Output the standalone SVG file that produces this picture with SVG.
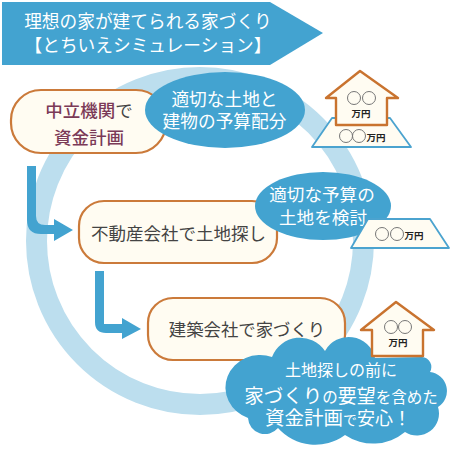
<svg xmlns="http://www.w3.org/2000/svg" width="450" height="450" viewBox="0 0 450 450">
<style>
text{font-family:"Noto Sans CJK JP","Noto Sans",sans-serif;text-anchor:middle}
.b{fill:#43a3d0}
.box{fill:#fffcf2;stroke:#cb7a3a;stroke-width:2.2}
.land{fill:#fffcf2;stroke:#4ba3cf;stroke-width:1.8;stroke-linejoin:round}
.house{fill:#fffcf2;stroke:#c9732f;stroke-width:2.4;stroke-linejoin:round}
.w{fill:#fff}
.d{fill:#444}
.m{fill:#7b3a57;font-weight:500}
.c{fill:none;stroke:#777;stroke-width:1}
.y{fill:#222;font-size:9.5px;font-weight:700}
</style>
<rect width="450" height="450" fill="#fff"/>
<circle id="ring" cx="200" cy="241" r="163.5" fill="none" stroke="#bcdeee" stroke-width="21"/>
<g id="banner"><polygon class="b" points="2,2 270,2 323,33 270,65 2,65"/>
<text class="w" x="148" y="28" font-size="17.7">理想の家が建てられる家づくり</text>
<text class="w" x="148" y="52" font-size="17.7">【とちいえシミュレーション】</text></g>
<g id="connectors" class="b">
<path d="M27 166H36V216Q36 225 45 225H54V219L73 230L54 241V234H41Q27 234 27 220Z"/>
<path d="M95 271H104V324H122V318L141 329L122 339V333H106Q95 333 95 322Z"/>
</g>
<g id="node-1"><rect class="box" x="11" y="90" width="155" height="63" rx="30"/>
<text class="m" x="89" y="117" font-size="17.5">中立機関<tspan fill="#444" font-weight="400">で</tspan></text>
<text class="m" x="89" y="144" font-size="17.5">資金計画</text></g>
<g id="bubble-1"><ellipse class="b" cx="225" cy="110" rx="80" ry="38"/>
<text class="w" x="224.500" y="106" font-size="17.7">適切な土地と</text>
<text class="w" x="224.500" y="128" font-size="17.7">建物の予算配分</text></g>
<g id="node-2"><rect class="box" x="79" y="201" width="198" height="62" rx="25"/>
<text class="d" x="178.500" y="240" font-size="17.5">不動産会社で土地探し</text></g>
<g id="bubble-2"><ellipse class="b" cx="323" cy="206" rx="68" ry="34"/>
<text class="w" x="322" y="201" font-size="17.600">適切な予算の</text>
<text class="w" x="323" y="224" font-size="17.600">土地を検討</text></g>
<g id="node-3"><rect class="box" x="148" y="298" width="197" height="62" rx="25"/>
<text class="d" x="247" y="336" font-size="17.400">建築会社で家づくり</text></g>
<g id="land-1"><polygon class="land" points="312,147 332,118 390,118 411,147"/>
<circle class="c" cx="346" cy="136" r="6.5"/><circle class="c" cx="359" cy="136" r="6.5"/>
<text class="y" x="376" y="141">万円</text></g>
<g id="house-1"><polygon class="house" points="360,71 398,98 387,98 387,125 336,125 336,98 326,98"/>
<circle class="c" cx="354" cy="98" r="6.5"/><circle class="c" cx="369" cy="98" r="6.5"/>
<text class="y" x="361" y="117">万円</text></g>
<g id="land-2"><polygon class="land" points="351,248 368,219 430,219 449,248"/>
<circle class="c" cx="382" cy="234" r="6.5"/><circle class="c" cx="397" cy="234" r="6.5"/>
<text class="y" x="414" y="239">万円</text></g>
<g id="cloud"><path class="b" d="M248 418A34 32 0 0 1 272 357A30 30 0 0 1 325 351A27 27 0 0 1 375 358L422 357A10 10 0 0 1 430 372A19 19 0 0 1 438 407A22 22 0 0 1 405 432A50 50 0 0 1 345 435A50 50 0 0 1 278 428A17 17 0 0 1 248 418Z"/>
<text class="w" x="341" y="376" font-size="16">土地探しの前に</text>
<text class="w" x="341" y="403"><tspan font-size="19.500">家づくり</tspan><tspan font-size="15.500">の</tspan><tspan font-size="19">要望</tspan><tspan font-size="15.500">を含めた</tspan></text>
<text class="w" x="338" y="425"><tspan font-size="19.500">資金計画</tspan><tspan font-size="14">で</tspan><tspan font-size="18">安心！</tspan></text></g>
<g id="house-2"><polygon class="house" points="396,302 434,330 423,330 423,356 372,356 372,330 361,330"/>
<circle class="c" cx="391" cy="327" r="6.5"/><circle class="c" cx="405" cy="327" r="6.5"/>
<text class="y" x="398" y="346">万円</text></g>
</svg>
